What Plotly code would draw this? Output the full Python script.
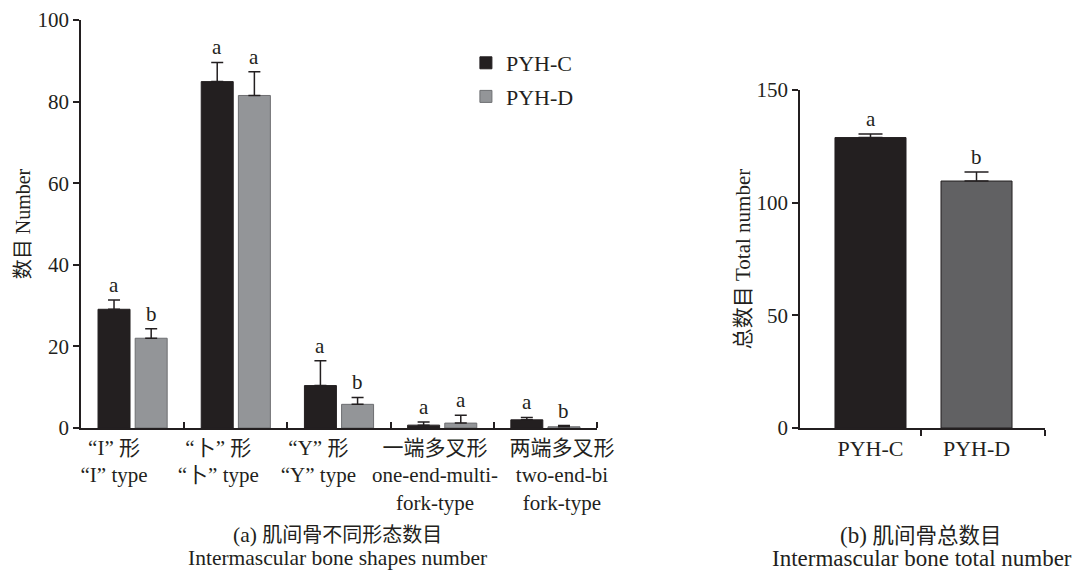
import plotly.graph_objects as go

# ---------------- data ----------------
shape_cn = ["“I” 形", "“卜” 形", "“Y” 形", "一端多叉形", "两端多叉形"]
shape_en = ["“I” type", "“卜” type", "“Y” type", "one-end-multi-<br>fork-type", "two-end-bi<br>fork-type"]
shape_labels = [c + "<br>" + e for c, e in zip(shape_cn, shape_en)]
# horizontal nudge of each category label (in category units), as set in the source figure
label_shift = [-0.18, -0.17, -0.20, -0.07, 0.16]

c_mean = [29.1, 84.9, 10.4, 0.7, 2.0]
c_err = [2.3, 4.7, 6.1, 0.8, 0.6]
c_sig = ["a", "a", "a", "a", "a"]
d_mean = [22.0, 81.5, 5.8, 1.2, 0.3]
d_err = [2.3, 5.8, 1.7, 1.9, 0.3]
d_sig = ["b", "a", "b", "a", "b"]

groups = ["PYH-C", "PYH-D"]
total_mean = [128.9, 109.6]
total_err = [1.6, 4.0]
total_sig = ["a", "b"]

# ---------------- style ----------------
INK = "#231f20"
C_COL = "#231f20"
D_COL = "#939598"
D_LINE = "#6d6e71"
D2_COL = "#616163"
FONT = "Liberation Serif, Noto Sans CJK SC, serif"

fig = go.Figure()
xs = list(range(len(shape_labels)))
bw = 0.31

fig.add_trace(go.Bar(
    x=xs, y=c_mean, name="PYH-C", width=bw, offset=-0.335,
    marker=dict(color=C_COL, line=dict(color=INK, width=1)),
    error_y=dict(type="data", array=c_err, arrayminus=[0] * len(c_err),
                 symmetric=False, color=INK, thickness=1.5, width=6),
    xaxis="x", yaxis="y", legendgroup="c",
))
fig.add_trace(go.Bar(
    x=xs, y=d_mean, name="PYH-D", width=bw, offset=0.025,
    marker=dict(color=D_COL, line=dict(color=D_LINE, width=1)),
    error_y=dict(type="data", array=d_err, arrayminus=[0] * len(d_err),
                 symmetric=False, color=INK, thickness=1.5, width=6),
    xaxis="x", yaxis="y", legendgroup="d",
))

xs2 = list(range(len(groups)))
fig.add_trace(go.Bar(
    x=xs2, y=total_mean, width=0.67, showlegend=False,
    marker=dict(color=[C_COL, D2_COL], line=dict(color=INK, width=1)),
    error_y=dict(type="data", array=total_err, arrayminus=[0, 0],
                 symmetric=False, color=INK, thickness=1.5, width=12),
    xaxis="x2", yaxis="y2",
))

SIGF = dict(size=21, color=INK, family=FONT)
annotations = []
for i in xs:
    annotations.append(dict(x=i - 0.335 + bw / 2, y=c_mean[i] + c_err[i], xref="x", yref="y",
                            text=c_sig[i], showarrow=False, yanchor="bottom", xanchor="center",
                            yshift=1, font=SIGF))
    annotations.append(dict(x=i + 0.025 + bw / 2, y=d_mean[i] + d_err[i], xref="x", yref="y",
                            text=d_sig[i], showarrow=False, yanchor="bottom", xanchor="center",
                            yshift=1, font=SIGF))
for i in xs2:
    annotations.append(dict(x=i, y=total_mean[i] + total_err[i], xref="x2", yref="y2",
                            text=total_sig[i], showarrow=False, yanchor="bottom", xanchor="center",
                            yshift=1, font=SIGF))

TFa = dict(size=21.5, color=INK, family=FONT)
TFb = dict(size=23, color=INK, family=FONT)
annotations += [
    dict(x=337 / 1076, y=1 - 535 / 571, xref="paper", yref="paper", showarrow=False,
         xanchor="center", yanchor="middle",
         text="(a) <span style='font-size:20px'>肌间骨不同形态数目</span>", font=TFa),
    dict(x=337 / 1076, y=1 - 558 / 571, xref="paper", yref="paper", showarrow=False,
         xanchor="center", yanchor="middle",
         text="Intermascular bone shapes number", font=TFa),
    dict(x=921 / 1076, y=1 - 535 / 571, xref="paper", yref="paper", showarrow=False,
         xanchor="center", yanchor="middle",
         text="(b) <span style='font-size:21.5px'>肌间骨总数目</span>", font=TFb),
    dict(x=922 / 1076, y=1 - 558 / 571, xref="paper", yref="paper", showarrow=False,
         xanchor="center", yanchor="middle",
         text="Intermascular bone total number", font=TFb),
]

axis_common = dict(showline=True, linecolor=INK, linewidth=1.5, showgrid=False,
                   zeroline=False, automargin=False)

fig.update_layout(
    width=1076, height=571,
    margin=dict(l=0, r=0, t=0, b=0),
    paper_bgcolor="white", plot_bgcolor="white",
    barmode="overlay",
    font=dict(family=FONT, color=INK),
    xaxis=dict(domain=[81 / 1076, 597 / 1076], range=[-0.5, 4.5], anchor="y",
               tickmode="array", tickvals=[i + s for i, s in zip(xs, label_shift)],
               ticktext=shape_labels, ticks="",
               tickangle=0, tickfont=dict(size=21, color=INK, family=FONT),
               minor=dict(tickvals=[0.5, 1.5, 2.5, 3.5, 4.5], ticks="inside",
                          ticklen=6, tickcolor=INK, tickwidth=1.5),
               **axis_common),
    yaxis=dict(domain=[1 - 428 / 571, 1 - 20 / 571], range=[0, 100], anchor="x",
               tickvals=[0, 20, 40, 60, 80, 100], ticks="outside", ticklen=6,
               tickcolor=INK, tickwidth=1.5,
               tickfont=dict(size=21, color=INK, family=FONT),
               title=dict(text="数目 Number", font=dict(size=20, color=INK, family=FONT),
                          standoff=2),
               **axis_common),
    xaxis2=dict(domain=[800 / 1076, 1045 / 1076], range=[-0.665, 1.646], anchor="y2",
                tickmode="array", tickvals=xs2, ticktext=groups, ticks="",
                tickangle=0, tickfont=dict(size=22, color=INK, family=FONT),
                minor=dict(tickvals=[0.48, 1.646], ticks="outside",
                           ticklen=6, tickcolor=INK, tickwidth=1.5),
                **axis_common),
    yaxis2=dict(domain=[1 - 428 / 571, 1 - 90 / 571], range=[0, 150], anchor="x2",
                tickvals=[0, 50, 100, 150], ticks="outside", ticklen=6,
                tickcolor=INK, tickwidth=1.5,
                tickfont=dict(size=21, color=INK, family=FONT),
                title=dict(text="总数目 Total number", font=dict(size=21, color=INK, family=FONT),
                           standoff=0),
                **axis_common),
    legend=dict(x=0.433, y=1 - 42 / 571, xanchor="left", yanchor="top",
                font=dict(size=22, color=INK, family=FONT), tracegroupgap=2,
                bgcolor="rgba(0,0,0,0)"),
    annotations=annotations,
)

fig.write_html("out.html", config={"displayModeBar": False},
               post_script="document.body.style.margin='0';document.body.style.overflow='hidden';")
